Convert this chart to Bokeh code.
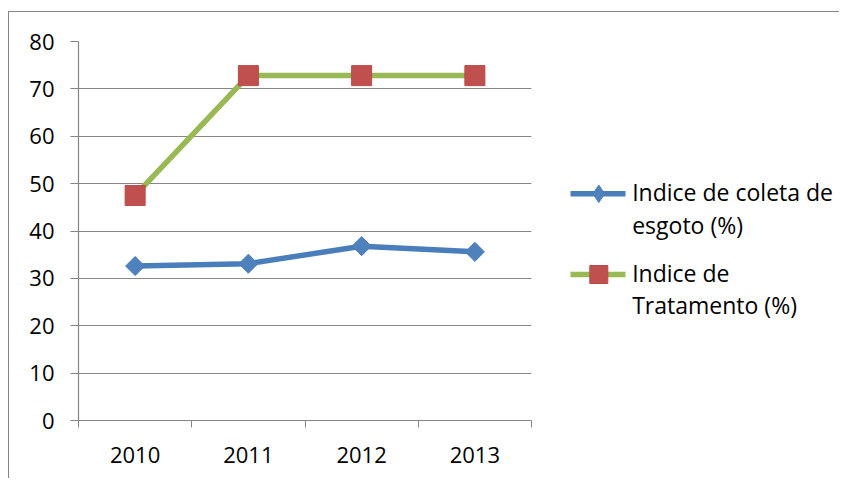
import numpy as np
from bokeh.plotting import figure
from bokeh.layouts import row
from bokeh.models import Range1d, FixedTicker, ColumnDataSource
from bokeh.core.properties import value
from bokeh.embed import file_html
from bokeh.resources import INLINE

years = ["2010", "2011", "2012", "2013"]
coleta = [32.6, 33.1, 36.8, 35.6]
tratamento = [47.5, 72.8, 72.8, 72.8]
series_names = ["Indice de coleta de\nesgoto (%)", "Indice de\nTratamento (%)"]
y_ticks = [0, 10, 20, 30, 40, 50, 60, 70, 80]

xs = [i + 0.5 for i in range(len(years))]
bounds = list(range(len(years) + 1))

FONT = "Open Sans"
GRID = "#868686"
BLUE_LINE, BLUE_FILL = "#4A7EBB", "#4F81BD"
GREEN_LINE = "#98B954"
RED_FILL, RED_LINE = "#C0504D", "#B9494B"

# ---- layout (pixels) ----
FRAME_W, FRAME_H = 453, 379
B_LEFT, B_TOP, B_BOTTOM, B_RIGHT = 69, 29, 58, 2
FIG_H = B_TOP + FRAME_H + B_BOTTOM
LEG_W = 306

p = figure(output_backend="svg", toolbar_location=None,
           frame_width=FRAME_W, frame_height=FRAME_H,
           min_border_left=B_LEFT, min_border_top=B_TOP,
           min_border_bottom=B_BOTTOM, min_border_right=B_RIGHT,
           x_range=Range1d(0, len(years)), y_range=Range1d(0, 80),
           background_fill_color="white", border_fill_color="white")
p.outline_line_color = None
p.xgrid.grid_line_color = None
p.ygrid.grid_line_color = GRID
p.ygrid.grid_line_width = 1.2
p.ygrid.ticker = FixedTicker(ticks=y_ticks)

p.yaxis.ticker = FixedTicker(ticks=y_ticks)
p.yaxis.axis_line_color = GRID
p.yaxis.axis_line_width = 1.2
p.yaxis.major_tick_line_color = GRID
p.yaxis.major_tick_out = 8
p.yaxis.major_tick_in = 0
p.yaxis.minor_tick_line_color = None
p.yaxis.major_label_standoff = 16
p.yaxis.major_label_text_font = FONT
p.yaxis.major_label_text_font_size = "22px"
p.yaxis.major_label_text_color = "black"

p.xaxis.ticker = FixedTicker(ticks=xs, minor_ticks=bounds)
p.xaxis.major_label_overrides = {x: y for x, y in zip(xs, years)}
p.xaxis.axis_line_color = GRID
p.xaxis.axis_line_width = 1.2
p.xaxis.major_tick_line_color = None
p.xaxis.major_tick_out = 0
p.xaxis.major_tick_in = 0
p.xaxis.minor_tick_line_color = GRID
p.xaxis.minor_tick_out = 7
p.xaxis.minor_tick_in = 0
p.xaxis.major_label_standoff = 19
p.xaxis.major_label_text_font = FONT
p.xaxis.major_label_text_font_size = "22px"
p.xaxis.major_label_text_color = "black"

src = ColumnDataSource(dict(x=xs, coleta=coleta, trat=tratamento))

p.line("x", "coleta", source=src, line_color=BLUE_LINE, line_width=5.5)
p.scatter("x", "coleta", source=src, marker="square", angle=np.pi / 4, size=13.5,
          fill_color=BLUE_FILL, line_color=BLUE_LINE)
p.line("x", "trat", source=src, line_color=GREEN_LINE, line_width=5.5)
p.scatter("x", "trat", source=src, marker="square", size=20,
          fill_color=RED_FILL, line_color=RED_LINE)

# ---- legend panel (own canvas; coordinates in pixels from its top edge, y downwards) ----
leg = figure(output_backend="svg", toolbar_location=None,
             width=LEG_W, height=FIG_H,
             min_border_left=0, min_border_right=0,
             min_border_top=B_TOP, min_border_bottom=B_BOTTOM,
             x_axis_type=None, y_axis_type=None,
             x_range=Range1d(0, LEG_W), y_range=Range1d(B_TOP + FRAME_H, B_TOP),
             background_fill_color="white", border_fill_color="white")
leg.outline_line_color = None
leg.grid.visible = False

SW_X0, SW_X1 = 37, 92          # swatch line extent
SW_MID = (SW_X0 + SW_X1) / 2 + 0.8
TXT_X = 98.7
ITEM_Y = [181.3, 262.0]        # swatch centre line of each entry
BASE_DY, LINE_DY = -1.6, 32.5  # first text line offset and line step

styles = [dict(line=BLUE_LINE, marker="diamond", size=17.5, fill=BLUE_FILL, mline=BLUE_LINE),
          dict(line=GREEN_LINE, marker="square", size=18, fill=RED_FILL, mline=RED_LINE)]

for name, y, st in zip(series_names, ITEM_Y, styles):
    leg.line([SW_X0, SW_X1], [y, y], line_color=st["line"], line_width=5.5)
    leg.scatter([SW_MID], [y], marker=st["marker"], size=st["size"],
                fill_color=st["fill"], line_color=st["mline"])
    lines = name.split("\n")
    leg.text(x=[TXT_X] * len(lines),
             y=[y + BASE_DY + i * LINE_DY for i in range(len(lines))],
             text=lines, text_font=value(FONT), text_font_size="23px",
             text_color="black", text_baseline="alphabetic", text_align="left")

layout = row(p, leg)
layout.styles = {"border-left": "1px solid #868686", "border-top": "1px solid #868686",
                 "margin-left": "8px", "margin-top": "11px"}

open("out.html", "w").write(file_html(layout, INLINE))
